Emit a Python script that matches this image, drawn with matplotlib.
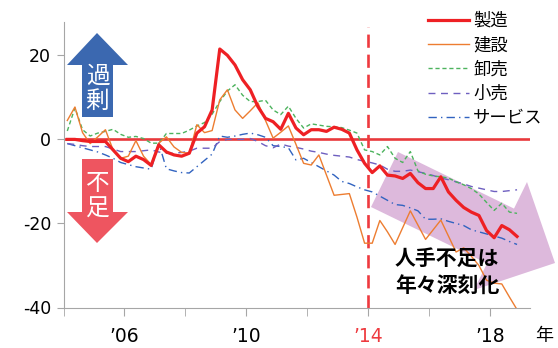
import numpy as np
import matplotlib
matplotlib.use("Agg")
import matplotlib.pyplot as plt
from matplotlib.patches import Polygon

# quarterly DI (excess - shortage), 2004Q1 .. 2018Q4
manufacturing = [0, 0, -0.3, -0.5, -0.5, -0.5, -2.5, -4.5, -5.3, -4,
                 -4.8, -6.2, -1.3, -3, -3.7, -4, -3.3, 1.5, 3, 7,
                 21.5, 20, 17.7, 14.2, 11.8, 7.8, 5, 4.2, 2.4, 6.2,
                 2.7, 1.1, 2.3, 2.3, 1.9, 2.9, 2.4, 1.5, -2.5, -5.7,
                 -7.9, -6.3, -8.5, -8.7, -9.3, -8.1, -10.3, -11.7, -11.7, -8.9,
                 -12.5, -14.5, -16.2, -17.3, -18.1, -21.7, -23.4, -20.5, -21.5, -23.1]
construction = [4.5, 7.7, 1.6, -1, 0.6, 2.3, -2.5, -4.5, -4, -0.3,
                -4, -6, -0.9, 0.6, -1.8, -3.1, -3.3, 3.5, 1.6, 2.1,
                9.4, 11.8, 7, 5, 6.8, 8.7, 4.5, 0.3, 1.7, 3.2,
                -1.2, -5.7, -6.1, -3.7, -8.5, -13.3, -13.1, -12.9, -18.5, -24.7,
                -24.7, -19.3, -22, -25, -21, -17, -20.4, -23.8, -21.5, -19.2,
                -23, -26.8, -25.8, -27.8, -30, -33.5, -34.2, -34.4, -37.5, -40.5]
wholesale = [2, 7.5, 2.3, 0.8, 1.5, 1.9, 2.4, 1.2, 0.5, 0.7,
             0.2, -0.9, -0.9, 1.4, 1.4, 1.4, 2.2, 3.2, 4, 6,
             9, 11.5, 13, 10.5, 9, 9, 9.3, 7, 5.9, 7.9,
             5, 2.7, 3.7, 3.4, 3.1, 3, 2.8, 2.2, 1.5, -2.5,
             -2.9, -3.7, -1.7, -4.5, -5.5, -2.9, -7.5, -8.3, -8.7, -8.9,
             -9.2, -10.1, -10.8, -11.7, -13, -15, -16.9, -15.2, -17.3, -17.6]
retail = [-1, -1.2, -1.5, -1.7, -1.7, -1.7, -2.3, -2.9, -2.9, -2.9,
          -2.7, -2.5, -3, -3.3, -3.3, -3.1, -2.8, -2.1, -2.1, -2.1,
          -0.5, 0, 0, 0, 0.2, -0.5, -1.5, -2, -1.1, -1.6,
          -1.9, -2.3, -2.8, -3.1, -3.5, -3.8, -4, -4.2, -4.8, -5.2,
          -5.6, -6.1, -7.1, -7.6, -7.6, -7.3, -7.7, -8.1, -8.6, -9.2,
          -9.6, -10.1, -10.6, -11.2, -11.6, -12, -12.4, -12.4, -12.2, -12]
services = [-1, -1.5, -2, -2.5, -3, -3.7, -4.5, -5.5, -6, -6.5,
            -6.8, -7.1, -0.9, -7, -7.5, -7.9, -8, -6.5, -5, -3.5,
            0.8, 0.5, 0.8, 1.2, 1.5, 1.1, 0.5, -1.5, -1.7, -2,
            -4.9, -4.5, -5.5, -6.5, -7.5, -8.5, -10, -10.5, -11.3, -12,
            -12.5, -13.5, -14.5, -15.5, -15.7, -16.3, -17, -19, -19, -18.9,
            -19.5, -20, -20.5, -21.5, -22, -22.5, -23, -23.5, -24.3, -25]

labels = ["製造", "建設", "卸売", "小売", "サービス"]
x_ticks = [2006, 2010, 2014, 2018]
x_ticklabels = ["\u201906", "\u201910", "\u201914", "\u201918"]
y_ticks = [20, 0, -20, -40]

t = 2004 + (np.arange(len(manufacturing)) + 0.5) / 4

W, H = 558, 348
cjk = ["Noto Sans CJK JP", "DejaVu Sans"]
plt.rcParams["font.family"] = ["DejaVu Sans"]

fig = plt.figure(figsize=(W / 100, H / 100), dpi=100)
ax = fig.add_axes([63.5 / W, 1 - 307.5 / H, (530 - 63.5) / W, (307.5 - 21.7) / H])


def px(x, y):
    return (x / W, 1 - y / H)


# big purple trend arrow behind the lines
arrow_pts = [(398, 152), (514, 208.6), (527, 182), (555, 263),
             (474, 290), (487, 263.4), (371, 207)]
ax.add_patch(Polygon([px(*p) for p in arrow_pts], closed=True,
                     transform=fig.transFigure, facecolor="#DDB9DC",
                     edgecolor="none", clip_on=False, zorder=0))

ax.axhline(0, color="#E8393C", lw=1.9, zorder=2)
ax.axvline(2014, ymin=0, ymax=(26.8 + 40) / 68, color="#EE3A3F", lw=1.9,
           dashes=(5, 2.6), zorder=2)

ax.plot(t, services, color="#3163C0", lw=1.0, dashes=(6, 3, 1, 3), label=labels[4], zorder=3)
ax.plot(t, retail, color="#6E5FC0", lw=1.0, dashes=(5, 4), label=labels[3], zorder=3)
ax.plot(t, wholesale, color="#4DB35E", lw=1.0, dashes=(3, 2), label=labels[2], zorder=3)
ax.plot(t, construction, color="#ED7D31", lw=1.0, label=labels[1], zorder=4)
ax.plot(t, manufacturing, color="#EE2024", lw=2.3, label=labels[0], zorder=5)

ax.set_xlim(2004, 2019.3)
ax.set_ylim(-40, 28)
ax.set_yticks(y_ticks)
ax.set_yticklabels([str(v) for v in y_ticks], fontsize=12.5)
ax.set_xticks(x_ticks)
ax.set_xticks([2004, 2008, 2012, 2016], minor=True)
ax.set_xticklabels(x_ticklabels, fontsize=13.5)
ax.get_xticklabels()[2].set_color("#EE3A3F")
ax.tick_params(axis="x", which="both", length=6, color="#A6A6A6", pad=8)
ax.tick_params(axis="y", length=5, color="#A6A6A6", pad=4)
for s in ["top", "right"]:
    ax.spines[s].set_visible(False)
for s in ["left", "bottom"]:
    ax.spines[s].set_color("#A6A6A6")

handles, labs = ax.get_legend_handles_labels()
order = [4, 3, 2, 1, 0]
leg = fig.legend([handles[i] for i in order], [labs[i] for i in order],
                 loc="upper left", bbox_to_anchor=px(428, 12), frameon=False,
                 borderpad=0, borderaxespad=0, handlelength=2.35, handletextpad=0.25,
                 labelspacing=0.36, prop={"family": cjk, "size": 12.5})

# blue "excess" arrow and red "shortage" arrow
up = [(97, 33), (128, 65), (113, 65), (113, 117), (82, 117), (82, 65), (67, 65)]
down = [(82, 159), (113, 159), (113, 212), (128, 212), (97, 243), (67, 212), (82, 212)]
fig.patches.append(Polygon([px(*p) for p in up], closed=True, transform=fig.transFigure,
                           facecolor="#3B68B0", edgecolor="none"))
fig.patches.append(Polygon([px(*p) for p in down], closed=True, transform=fig.transFigure,
                           facecolor="#EE5560", edgecolor="none"))
for ch, y in [("過", 76), ("剰", 101), ("不", 184), ("足", 209)]:
    fig.text(*px(97.5, y), ch, color="white", fontsize=17, family=cjk,
             ha="center", va="center")

fig.text(*px(447, 258), "人手不足は", fontsize=15, fontweight="bold", family=cjk,
         ha="center", va="center")
fig.text(*px(447, 285), "年々深刻化", fontsize=15, fontweight="bold", family=cjk,
         ha="center", va="center")
fig.text(*px(544, 336), "年", fontsize=13, family=cjk, ha="center", va="center")

fig.savefig("out.png", dpi=100)
